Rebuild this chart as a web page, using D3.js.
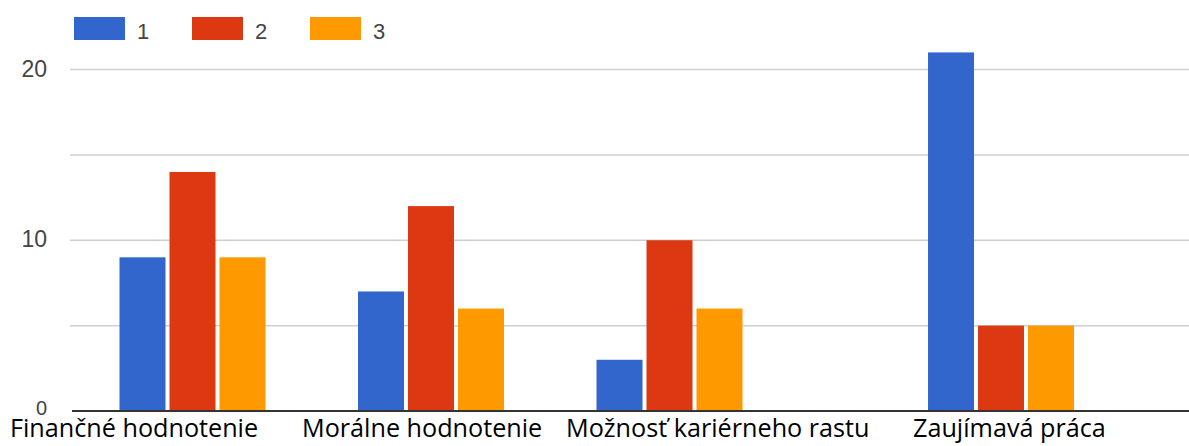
<!DOCTYPE html>
<html>
<head>
<meta charset="utf-8">
<script src="https://cdn.jsdelivr.net/npm/d3@7"></script>
<style>
  body { margin: 0; background: #fff; }
</style>
</head>
<body>
<script>
const categories = ["Finančné hodnotenie", "Morálne hodnotenie", "Možnosť kariérneho rastu", "Zaujímavá práca"];
const seriesNames = ["1", "2", "3"];
const values1 = [9, 7, 3, 21];
const values2 = [14, 12, 10, 5];
const values3 = [9, 6, 6, 5];
const yTicks = [0, 5, 10, 15, 20];
const yLabels = [0, 10, 20];

const colors = ["#3366cc", "#dc3912", "#ff9900"];
const width = 1189, height = 446;

// the groups in the picture are not evenly spaced, so each gets a slot on a linear scale
const groupSlots = [0, 1, 2, 3.39];
const labelStarts = [10, 302, 566, 913];

const svg = d3.select("body").append("svg")
    .attr("width", width)
    .attr("height", height);

const y = d3.scaleLinear().domain([0, 20]).range([411, 69.5]);
const slotX = d3.scaleLinear().domain([0, 1]).range([192.5, 431]);
const groupWidth = 146;
const inner = d3.scaleBand().domain(seriesNames).range([0, groupWidth]).paddingInner(0.08);

// grid
svg.append("g").selectAll("line")
    .data(yTicks.filter(t => t !== 0))
    .join("line")
    .attr("x1", 70).attr("x2", width)
    .attr("y1", d => y(d)).attr("y2", d => y(d))
    .attr("stroke", "#cfcfcf")
    .attr("stroke-width", 1.5);

// y labels
svg.append("g").selectAll("text")
    .data(yLabels)
    .join("text")
    .attr("x", 47)
    .attr("y", d => d === 0 ? y(d) - 1 : y(d) + 1)
    .attr("text-anchor", "end")
    .attr("dominant-baseline", "middle")
    .style("font-family", "'Liberation Sans', Arial, sans-serif")
    .style("font-size", d => d === 0 ? "20px" : "23px")
    .style("fill", "#444")
    .text(d => d);

// bars
const allSeries = [values1, values2, values3];
const bars = svg.append("g");
categories.forEach((cat, i) => {
    const left = slotX(groupSlots[i]) - groupWidth / 2;
    seriesNames.forEach((s, j) => {
        const v = allSeries[j][i];
        bars.append("rect")
            .attr("x", left + inner(s))
            .attr("y", y(v))
            .attr("width", inner.bandwidth())
            .attr("height", y(0) - y(v))
            .attr("fill", colors[j]);
    });
});

// baseline
svg.append("line")
    .attr("x1", 72).attr("x2", width)
    .attr("y1", y(0)).attr("y2", y(0))
    .attr("stroke", "#333")
    .attr("stroke-width", 2);

// category labels
svg.append("g").selectAll("text")
    .data(categories)
    .join("text")
    .attr("x", (d, i) => labelStarts[i])
    .attr("y", 437)
    .style("font-family", "'Open Sans', Lato, sans-serif")
    .style("font-size", "25.2px")
    .style("fill", "#000")
    .text(d => d);

// legend
const legend = svg.append("g");
seriesNames.forEach((s, j) => {
    const lx = 74 + j * 118;
    legend.append("rect")
        .attr("x", lx).attr("y", 17)
        .attr("width", 51).attr("height", 23)
        .attr("fill", colors[j]);
    legend.append("text")
        .attr("x", lx + 63)
        .attr("y", 39)
        .style("font-family", "'Liberation Sans', Arial, sans-serif")
        .style("font-size", "22px")
        .style("fill", "#444")
        .text(s);
});
</script>
</body>
</html>
